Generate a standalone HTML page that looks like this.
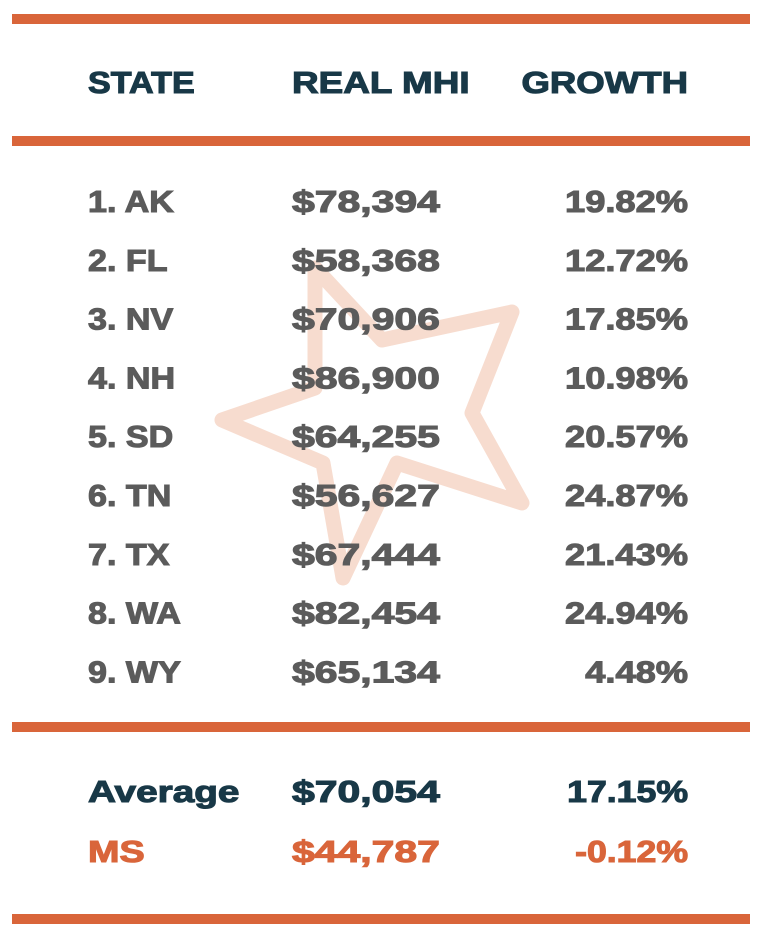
<!DOCTYPE html>
<html><head><meta charset="utf-8"><style>
html,body{margin:0;padding:0;background:#fff;}
svg{display:block;font-family:"Liberation Sans",sans-serif;font-weight:bold;}
</style></head><body>
<svg width="768" height="943" viewBox="0 0 768 943">
  <polygon points="315,268 382,340 512,312 472,413 522,503 397,463 343,578 323,463 222,420 315,388"
    fill="none" stroke="#f7dccf" stroke-width="15" stroke-linejoin="round"/>
  <rect x="12" y="14" width="738" height="10" fill="#d9653a"/>
  <rect x="12" y="136" width="738" height="10" fill="#d9653a"/>
  <rect x="12" y="722" width="738" height="10" fill="#d9653a"/>
  <rect x="12" y="914" width="738" height="10" fill="#d9653a"/>
  <g id="content"></g>
</svg>
<script>
const states=["1. AK","2. FL","3. NV","4. NH","5. SD","6. TN","7. TX","8. WA","9. WY"];
const mhi=["$78,394","$58,368","$70,906","$86,900","$64,255","$56,627","$67,444","$82,454","$65,134"];
const growth=["19.82%","12.72%","17.85%","10.98%","20.57%","24.87%","21.43%","24.94%","4.48%"];
const summaryLabels=["Average","MS"];
const summaryMhi=["$70,054","$44,787"];
const summaryGrowth=["17.15%","-0.12%"];
const NS="http://www.w3.org/2000/svg";
const g=document.getElementById('content');
function txt(s,x,y,anchor,sx,color,size,name){
  const gr=document.createElementNS(NS,'g');
  gr.setAttribute('transform','translate('+x+','+y+') scale('+sx+',1)');
  const t=document.createElementNS(NS,'text');
  
  
  t.setAttribute('text-anchor',anchor);
  t.setAttribute('fill',color);
  t.setAttribute('stroke',color);
  t.setAttribute('stroke-width','1.1');
  t.setAttribute('font-size',size);
  t.textContent=s;
  gr.appendChild(t);g.appendChild(gr);
}
const navy="#183847",gray="#5b5b5b",orange="#d9653a";
txt("STATE",88,93,"start",1.1,navy,31,"header-state");
txt("REAL MHI",292,93,"start",1.19,navy,31,"header-real-mhi");
txt("GROWTH",688,93,"end",1.18,navy,31,"header-growth");
for(let i=0;i<states.length;i++){
  const y=212+i*58.8;
  txt(states[i],88,y,"start",1.1,gray,31,"state-label");
  txt(mhi[i],292,y,"start",1.32,gray,31,"mhi-value");
  txt(growth[i],688,y,"end",1.17,gray,31,"growth-value");
}
for(let i=0;i<summaryLabels.length;i++){
  const y=802+i*60;
  const c=i===0?navy:orange;
  txt(summaryLabels[i],88,y,"start",i===0?1.25:1.22,c,31,"summary-label");
  txt(summaryMhi[i],292,y,"start",1.32,c,31,"summary-mhi");
  txt(summaryGrowth[i],688,y,"end",1.15,c,31,"summary-growth");
}
</script>
</body></html>
